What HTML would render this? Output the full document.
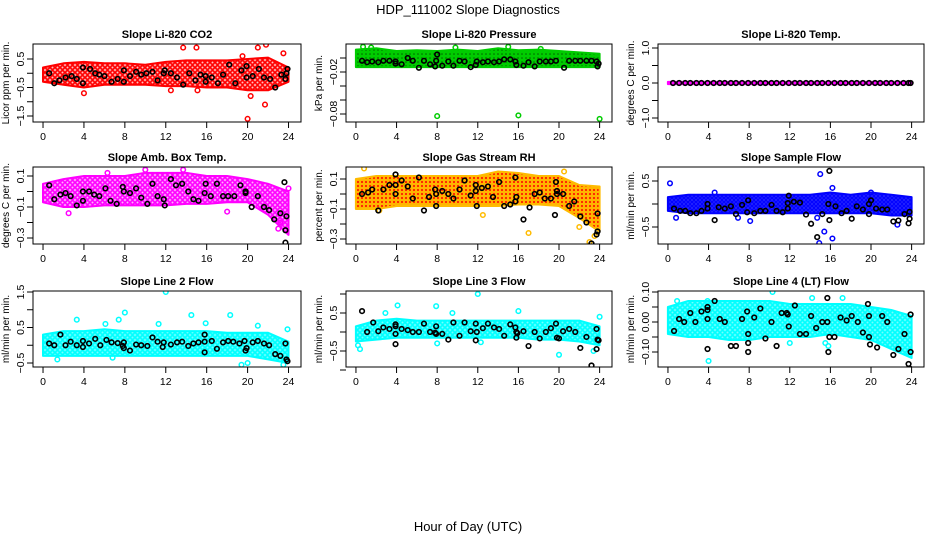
<!DOCTYPE html>
<html><head><meta charset="utf-8"><style>
html,body{margin:0;padding:0;background:#fff;}
svg{display:block;font-family:"Liberation Sans",sans-serif;}
</style></head><body>
<svg id="chart" width="936" height="540" viewBox="0 0 936 540" xmlns="http://www.w3.org/2000/svg">
<defs>
<pattern id="pat-red" width="5" height="5" patternUnits="userSpaceOnUse"><rect width="5" height="5" fill="#f00" opacity="0.25"/><circle cx="2.5" cy="2.5" r="1.8" fill="none" stroke="#f00" stroke-width="1.6"/></pattern>
<pattern id="pat-green" width="4" height="4" patternUnits="userSpaceOnUse"><rect width="4" height="4" fill="#0c0"/><circle cx="2" cy="2" r="0.8" fill="#060"/></pattern>
<pattern id="pat-mag" width="5" height="5" patternUnits="userSpaceOnUse"><rect width="5" height="5" fill="#f0f" opacity="0.3"/><circle cx="2.5" cy="2.5" r="1.8" fill="none" stroke="#f0f" stroke-width="1.6"/></pattern>
<pattern id="pat-rh" width="4" height="4" patternUnits="userSpaceOnUse"><rect width="4" height="4" fill="#ffb400"/><circle cx="2" cy="2" r="1" fill="#f00"/></pattern>
<pattern id="pat-blue" width="4" height="4" patternUnits="userSpaceOnUse"><rect width="4" height="4" fill="#00f" opacity="0.8"/><circle cx="2" cy="2" r="1.4" fill="none" stroke="#00f" stroke-width="1.2"/></pattern>
<pattern id="pat-cyan" width="5" height="5" patternUnits="userSpaceOnUse"><rect width="5" height="5" fill="#0ff" opacity="0.55"/><circle cx="2.5" cy="2.5" r="1.8" fill="none" stroke="#0ff" stroke-width="1.6"/></pattern>
</defs>
<text x="468" y="14" font-size="13" text-anchor="middle">HDP_111002  Slope Diagnostics</text>
<text x="468" y="531" font-size="13" text-anchor="middle">Hour of Day (UTC)</text>
</svg>
<script>
const bandHours=[0,2,4,6,8,10,12,14,16,18,20,22,24];
const xTicks=[0,4,8,12,16,20,24];
// Panel 1 CO2
const co2Lo=[-0.3,-0.4,-0.5,-0.4,-0.4,-0.4,-0.45,-0.45,-0.5,-0.5,-0.6,-0.6,-0.3];
const co2Hi=[0.2,0.35,0.4,0.35,0.35,0.3,0.4,0.45,0.45,0.45,0.5,0.55,0.2];
const co2Out=[[13.7,0.9],[15,0.9],[20,-1.6],[21.7,-1.1],[21.8,1.0],[21,0.9],[20.3,-0.8],[4,-0.7],[12.5,-0.6],[15.1,-0.6],[23.5,0.7],[19.5,0.6]];
const co2Black=[[0.6,0],[1.1,-0.35],[1.6,-0.25],[2.2,-0.15],[2.8,-0.1],[3.3,-0.2],[3.9,-0.35],[3.9,0.2],[4.6,0.15],[5.1,0],[5.5,-0.05],[6,-0.1],[6.7,-0.3],[7.3,-0.2],[7.9,-0.3],[7.9,0.1],[8.5,-0.1],[9.1,0.05],[9.6,-0.05],[10.1,0],[10.7,0.05],[11.2,-0.25],[11.8,0],[11.9,0.1],[12.5,0],[13.1,-0.15],[13.7,-0.4],[14.3,0],[14.9,-0.25],[15.4,-0.05],[15.9,-0.1],[15.9,-0.3],[16.5,-0.15],[17.1,-0.35],[17.6,-0.05],[18.2,0.3],[18.8,-0.35],[19.4,0.1],[19.9,-0.15],[19.9,0.25],[20.5,-0.1],[21.1,0.15],[21.6,-0.15],[22.2,-0.2],[22.7,-0.5],[23.3,-0.05],[23.7,-0.2],[23.9,0.15],[23.8,0.0]];
// Panel 2 pressure
const presLo=[-0.013,-0.013,-0.013,-0.013,-0.013,-0.013,-0.013,-0.013,-0.013,-0.013,-0.013,-0.013,-0.013];
const presHi=[0.012,0.014,0.01,0.011,0.01,0.012,0.01,0.014,0.011,0.012,0.01,0.008,0.006];
const presOut=[[8,-0.083],[16,-0.082],[24,-0.087],[0.7,0.016],[1.5,0.015],[15,0.016],[18.2,0.013],[9.8,0.015]];
const presBlack=[[0.6,-0.004],[1.1,-0.006],[1.6,-0.005],[2.2,-0.006],[2.7,-0.004],[3.3,-0.004],[3.9,-0.005],[3.9,-0.008],[4.5,-0.009],[5.1,0.0],[5.6,-0.004],[6.2,-0.014],[6.7,-0.004],[7.3,-0.009],[7.8,-0.012],[7.9,-0.004],[8,0.005],[8.5,-0.011],[9.1,-0.005],[9.6,-0.011],[10.2,-0.004],[10.7,-0.005],[11.3,-0.013],[11.8,-0.01],[11.9,-0.005],[12.5,-0.006],[13,-0.005],[13.6,-0.006],[14.1,-0.005],[14.6,-0.002],[15.2,-0.002],[15.7,-0.005],[15.8,-0.01],[16.5,-0.011],[17,-0.006],[17.6,-0.012],[18.1,-0.005],[18.7,-0.005],[19.2,-0.005],[19.7,-0.004],[20.5,-0.014],[21,-0.004],[21.6,-0.004],[22.1,-0.004],[22.7,-0.004],[23.2,-0.004],[23.7,-0.005],[23.8,-0.012],[23.9,-0.008]];
// Panel 3 temp
const tempLo=[-0.03,-0.03,-0.03,-0.03,-0.03,-0.03,-0.03,-0.03,-0.03,-0.03,-0.03,-0.03,-0.03];
const tempHi=[0.03,0.03,0.03,0.03,0.03,0.03,0.03,0.03,0.03,0.03,0.03,0.03,0.03];
const tempOut=[];
const tempBlack=[[0.5,0],[1.1,0],[1.7,0],[2.2,0],[2.8,0],[3.3,0],[3.9,0],[4.5,0],[5.1,0],[5.6,0],[6.2,0],[6.7,0],[7.3,0],[7.9,0],[8.5,0],[9.1,0],[9.6,0],[10.2,0],[10.7,0],[11.3,0],[11.9,0],[12.5,0],[13,0],[13.6,0],[14.1,0],[14.7,0],[15.2,0],[15.8,0],[16.4,0],[17,0],[17.5,0],[18.1,0],[18.6,0],[19.2,0],[19.8,0],[20.4,0],[20.9,0],[21.5,0],[22,0],[22.6,0],[23.2,0],[23.7,0],[23.9,0]];
// Panel 4 amb box
const ambLo=[-0.07,-0.1,-0.1,-0.09,-0.09,-0.09,-0.09,-0.08,-0.08,-0.07,-0.07,-0.15,-0.28];
const ambHi=[0.05,0.08,0.1,0.1,0.1,0.12,0.12,0.12,0.1,0.1,0.08,0.05,0.0];
const ambOut=[[23,-0.24],[10,0.14],[13.7,0.14],[18,-0.13],[2.5,-0.14],[6.3,0.12],[23.2,-0.2],[24,0.02]];
const ambBlack=[[0.6,0.04],[1.1,-0.05],[1.7,-0.02],[2.2,-0.01],[2.7,-0.03],[3.3,-0.09],[3.9,-0.06],[3.9,0.0],[4.5,0.0],[5,-0.02],[5.5,-0.03],[6.1,0.02],[6.6,-0.06],[7.2,-0.08],[7.8,0.03],[7.9,0.0],[8.5,-0.01],[9.1,0.02],[9.6,-0.04],[10.2,-0.08],[10.7,0.05],[11.2,-0.03],[11.8,-0.05],[11.9,-0.09],[12.5,0.08],[13,0.04],[13.6,0.05],[14.2,0.0],[14.7,-0.05],[15.2,-0.06],[15.8,-0.01],[15.9,0.05],[16.4,-0.03],[17,0.05],[17.6,-0.03],[18.1,-0.03],[18.7,-0.03],[19.3,0.04],[19.8,0.0],[19.8,-0.01],[20.4,-0.1],[21,-0.03],[21.6,-0.1],[22.1,-0.12],[22.6,-0.18],[23.2,-0.14],[23.6,0.06],[23.7,-0.25],[23.8,-0.16],[23.7,-0.33]];
// Panel 5 RH
const rhLo=[-0.1,-0.1,-0.08,-0.08,-0.08,-0.08,-0.08,-0.08,-0.07,-0.07,-0.08,-0.16,-0.25];
const rhHi=[0.1,0.12,0.12,0.12,0.12,0.12,0.12,0.15,0.14,0.12,0.12,0.06,0.05];
const rhOut=[[0.8,0.17],[17,-0.26],[23,-0.32],[2.3,-0.11],[12.5,-0.14],[20.5,0.15],[22,-0.22],[23.5,-0.28]];
const rhBlack=[[0.6,0.0],[1.2,0.01],[1.6,0.03],[2.2,-0.11],[2.7,0.03],[3.3,0.06],[3.9,0.13],[3.9,0.06],[3.9,0.0],[4.5,0.09],[5.1,0.05],[5.6,-0.03],[6.2,0.11],[6.7,-0.11],[7.2,-0.02],[7.8,0.03],[7.9,0.0],[7.9,-0.08],[8.5,0.02],[9.1,0.0],[9.6,-0.03],[10.2,0.03],[10.7,0.09],[11.3,-0.01],[11.8,0.06],[11.8,0.02],[11.9,-0.08],[12.4,0.04],[13,0.05],[13.5,-0.02],[14.1,0.08],[14.6,-0.08],[15.2,-0.07],[15.7,0.11],[15.8,-0.02],[15.7,-0.05],[16.5,-0.17],[17.1,-0.09],[17.6,0.0],[18.1,0.01],[18.6,-0.03],[19.2,-0.03],[19.7,0.08],[19.8,0.02],[19.8,0.0],[19.6,-0.14],[20.4,0.0],[21,-0.08],[21.5,-0.05],[22.1,-0.15],[22.7,-0.19],[23.2,-0.33],[23.7,-0.27],[23.8,-0.25],[23.8,-0.13]];
// Panel 6 sample flow
const sfLo=[-0.15,-0.2,-0.2,-0.2,-0.2,-0.2,-0.2,-0.2,-0.2,-0.2,-0.2,-0.25,-0.25];
const sfHi=[0.15,0.2,0.2,0.2,0.2,0.2,0.2,0.2,0.25,0.2,0.25,0.2,0.15];
const sfOut=[[0.2,0.45],[15,0.65],[16.2,0.35],[14.9,-0.85],[15.4,-0.6],[16.2,-0.75],[0.8,-0.3],[8.1,-0.37],[6.9,-0.3],[22.6,-0.45],[14.7,-0.3],[4.6,0.25],[20,0.25]];
const sfBlack=[[0.6,-0.1],[1.2,-0.15],[1.7,-0.15],[2.2,-0.2],[2.8,-0.2],[3.3,-0.15],[3.9,-0.1],[3.9,0.0],[4.6,-0.35],[5,-0.07],[5.6,-0.1],[6.2,-0.05],[6.7,-0.22],[7.3,-0.02],[7.8,-0.18],[7.9,0.08],[8.5,-0.2],[9.1,-0.15],[9.6,-0.15],[10.2,-0.02],[10.7,-0.15],[11.3,-0.18],[11.8,-0.1],[11.8,0.02],[11.9,0.18],[12.4,0.05],[13,0.03],[13.6,-0.23],[14.1,-0.43],[14.7,-0.72],[15.2,-0.22],[15.8,0.0],[15.9,-0.35],[15.9,0.72],[16.5,-0.05],[17.1,-0.2],[17.6,-0.15],[18.1,-0.32],[18.6,-0.05],[19.2,-0.12],[19.8,0.0],[19.8,-0.22],[20,0.08],[20.5,-0.1],[21.1,-0.12],[21.6,-0.12],[22.2,-0.38],[22.7,-0.36],[23.3,-0.22],[23.7,-0.42],[23.8,-0.32],[23.8,-0.17]];
// Panel 7 line 2
const l2Lo=[-0.3,-0.3,-0.3,-0.3,-0.3,-0.3,-0.3,-0.3,-0.3,-0.3,-0.3,-0.4,-0.5];
const l2Hi=[0.3,0.4,0.4,0.45,0.4,0.4,0.4,0.4,0.4,0.35,0.35,0.35,0.1];
const l2Out=[[12,1.5],[8,0.92],[14.5,0.85],[18.3,0.85],[3.3,0.72],[6.1,0.6],[7.4,0.72],[1.4,-0.4],[6.8,-0.35],[19.4,-0.55],[20,-0.5],[23.5,-0.55],[23.9,0.45],[15.9,0.62],[11.3,0.6],[21,0.55]];
const l2Black=[[0.6,0.05],[1.1,0.0],[1.7,0.3],[2.2,0.0],[2.7,0.1],[3.3,0.0],[3.9,-0.05],[3.9,0.12],[4.5,0.05],[5.1,0.18],[5.6,0.0],[6.2,0.15],[6.7,0.08],[7.3,0.06],[7.8,-0.02],[7.9,-0.08],[7.9,0.08],[8.5,-0.15],[9.1,0.02],[9.6,0.0],[10.2,-0.02],[10.7,0.22],[11.2,0.1],[11.7,-0.05],[11.8,0.08],[12.5,0.02],[13.1,0.08],[13.6,0.1],[14.2,-0.02],[14.7,0.05],[15.2,0.08],[15.8,0.3],[15.8,0.1],[15.8,-0.2],[16.5,0.12],[17,-0.1],[17.6,0.08],[18.1,0.12],[18.6,0.1],[19.2,0.05],[19.7,0.12],[19.8,-0.15],[19.9,-0.08],[20.5,0.08],[21,0.12],[21.6,0.05],[22.1,0.0],[22.7,-0.25],[23.2,-0.3],[23.7,0.05],[23.8,-0.4],[23.9,-0.45]];
// Panel 8 line 3
const l3Lo=[-0.25,-0.2,-0.15,-0.15,-0.15,-0.15,-0.15,-0.15,-0.15,-0.2,-0.2,-0.25,-0.35];
const l3Hi=[0.15,0.3,0.35,0.3,0.3,0.3,0.3,0.3,0.3,0.3,0.3,0.3,0.15];
const l3Out=[[12,1.0],[4.1,0.7],[7.9,0.68],[0.4,-0.45],[0.2,-0.35],[8,-0.3],[20,-0.6],[23.4,-0.5],[24,0.4],[9.5,0.5],[16,0.55],[2.9,0.5],[12.3,-0.27]];
const l3Black=[[0.6,0.55],[1.1,0.0],[1.7,0.25],[2.2,0.02],[2.7,0.12],[3.3,0.08],[3.9,0.2],[3.9,0.15],[3.9,-0.05],[3.9,-0.32],[4.5,0.08],[5.1,0.05],[5.6,0.0],[6.2,0.0],[6.7,0.22],[7.3,0.0],[7.8,-0.02],[7.9,0.15],[7.9,-0.05],[8.5,-0.05],[9.1,-0.2],[9.6,0.25],[10.2,-0.1],[10.7,0.25],[11.3,0.02],[11.8,0.22],[11.9,0.0],[11.8,-0.22],[12.5,0.1],[13,0.22],[13.6,0.12],[14.1,0.08],[14.6,-0.1],[15.2,0.2],[15.7,0.12],[15.8,-0.15],[15.8,0.0],[15.9,-0.03],[16.5,0.02],[17,-0.37],[17.6,0.0],[18.1,-0.17],[18.7,0.0],[19.2,0.1],[19.7,0.22],[19.8,-0.15],[20,-0.17],[20.4,0.02],[21,0.08],[21.6,0.0],[22.1,-0.42],[22.7,-0.13],[23.2,-0.88],[23.7,0.08],[23.7,-0.45],[23.8,-0.2],[23.9,-0.22]];
// Panel 9 line 4
const l4Lo=[-0.04,-0.05,-0.05,-0.06,-0.06,-0.05,-0.05,-0.05,-0.04,-0.05,-0.06,-0.09,-0.12];
const l4Hi=[0.05,0.07,0.07,0.07,0.07,0.07,0.06,0.06,0.06,0.06,0.05,0.04,0.02];
const l4Out=[[4,-0.13],[10.3,0.1],[12,-0.07],[15.8,-0.08],[14.2,0.08],[0.9,0.07],[3.9,0.07],[17.2,0.08],[15.5,-0.07]];
const l4Black=[[0.6,-0.03],[1.1,0.01],[1.6,0.0],[2.2,0.03],[2.7,0.0],[3.3,0.035],[3.9,0.05],[3.9,0.04],[3.9,0.01],[3.9,-0.09],[4.6,0.07],[5.1,0.01],[5.6,0.0],[6.2,-0.08],[6.7,-0.08],[7.3,0.01],[7.8,0.035],[7.9,-0.04],[7.9,-0.07],[7.9,-0.1],[8.5,0.015],[9.1,0.045],[9.6,-0.055],[10.2,0.0],[10.7,-0.08],[11.2,0.03],[11.7,0.03],[11.8,0.025],[11.9,-0.015],[12.5,0.055],[13,-0.04],[13.6,-0.04],[14.1,0.02],[14.6,-0.02],[15.2,0.0],[15.7,0.08],[15.7,0.0],[15.8,-0.1],[15.9,-0.05],[16.4,-0.05],[17,0.015],[17.6,0.005],[18.1,0.02],[18.7,0.0],[19.2,-0.035],[19.7,0.06],[19.8,0.02],[19.8,-0.05],[19.9,-0.075],[20.6,-0.085],[21.1,0.02],[21.6,0],[22.2,-0.11],[22.7,-0.09],[23.3,-0.04],[23.7,-0.14],[23.8,-0.155],[23.9,0.025],[23.9,-0.1]];

const panels=[
 {id:'co2',title:'Slope Li-820 CO2',ylab:'Licor ppm per min.',col:0,row:0,lo:co2Lo,hi:co2Hi,out:co2Out,blk:co2Black,pat:'pat-red',color:'#f00',ref:[0.5,59,-1.5,116],ticks:[0.5,0,-0.5,-1,-1.5],labels:[0.5,-0.5,-1.5],fmt:1},
 {id:'pressure',title:'Slope Li-820 Pressure',ylab:'kPa per min.',col:1,row:0,lo:presLo,hi:presHi,out:presOut,blk:presBlack,pat:'pat-green',color:'#0c0',ref:[0,58,-0.08,114],ticks:[0,-0.02,-0.04,-0.06,-0.08],labels:[-0.02,-0.08],fmt:2},
 {id:'temp',title:'Slope Li-820 Temp.',ylab:'degrees C per min.',col:2,row:0,lo:tempLo,hi:tempHi,out:tempOut,blk:tempBlack,pat:'pat-mag',color:'#f0f',ref:[1,48,-1,118],ticks:[1,0.5,0,-0.5,-1],labels:[1,0,-1],fmt:1},
 {id:'amb-box',title:'Slope Amb. Box Temp.',ylab:'degrees C per min.',col:0,row:1,lo:ambLo,hi:ambHi,out:ambOut,blk:ambBlack,pat:'pat-mag',color:'#f0f',ref:[0.1,176,-0.3,238],ticks:[0.1,0,-0.1,-0.2,-0.3],labels:[0.1,-0.1,-0.3],fmt:1},
 {id:'rh',title:'Slope Gas Stream RH',ylab:'percent per min.',col:1,row:1,lo:rhLo,hi:rhHi,out:rhOut,blk:rhBlack,pat:'pat-rh',color:'#fb0',ref:[0.1,179,-0.3,239],ticks:[0.1,0,-0.1,-0.2,-0.3],labels:[0.1,-0.1,-0.3],fmt:1},
 {id:'sample-flow',title:'Slope Sample Flow',ylab:'ml/min per min.',col:2,row:1,lo:sfLo,hi:sfHi,out:sfOut,blk:sfBlack,pat:'pat-blue',color:'#00f',ref:[0.5,181,-0.5,227],ticks:[0.5,0,-0.5],labels:[0.5,-0.5],fmt:1},
 {id:'line2',title:'Slope Line 2 Flow',ylab:'ml/min per min.',col:0,row:2,lo:l2Lo,hi:l2Hi,out:l2Out,blk:l2Black,pat:'pat-cyan',color:'#0ff',ref:[1.5,292,-0.5,363],ticks:[1.5,1,0.5,0,-0.5],labels:[1.5,0.5,-0.5],fmt:1},
 {id:'line3',title:'Slope Line 3 Flow',ylab:'ml/min per min.',col:1,row:2,lo:l3Lo,hi:l3Hi,out:l3Out,blk:l3Black,pat:'pat-cyan',color:'#0ff',ref:[0.5,313,-0.5,351],ticks:[1,0.5,0,-0.5,-1],labels:[0.5,-0.5],fmt:1},
 {id:'line4',title:'Slope Line 4 (LT) Flow',ylab:'ml/min per min.',col:2,row:2,lo:l4Lo,hi:l4Hi,out:l4Out,blk:l4Black,pat:'pat-cyan',color:'#0ff',ref:[0.1,292,-0.1,352],ticks:[0.1,0.05,0,-0.05,-0.1],labels:[0.1,0,-0.1],fmt:2}
];
const colX=[[33,301],[346,612],[658,924]];
const rowY=[[44,122],[167,244],[291,367]];
const NS='http://www.w3.org/2000/svg';
const svg=document.getElementById('chart');
function mk(tag,attrs,parent){const e=document.createElementNS(NS,tag);for(const k in attrs)e.setAttribute(k,attrs[k]);(parent||svg).appendChild(e);return e;}
function fmtNum(v,d){const s=Math.abs(v).toFixed(d);return (v<0?'\u2212':'')+s;}

panels.forEach(p=>{
  const [L,R]=colX[p.col],[T,B]=rowY[p.row];
  const xs=h=>L+(h+0.98)/26.2*(R-L);
  const [v1,y1,v2,y2]=p.ref;
  const ys=v=>y1+(v-v1)*(y2-y1)/(v2-v1);
  const g=mk('g',{});
  
  
  const clipId='clip-'+p.id;
  const cp=mk('clipPath',{id:clipId},g);mk('rect',{x:L,y:T,width:R-L,height:B-T},cp);
  const plot=mk('g',{'clip-path':'url(#'+clipId+')'},g);
  let d='';
  bandHours.forEach((h,i)=>{d+=(i?'L':'M')+xs(h).toFixed(1)+','+ys(p.hi[i]).toFixed(1);});
  for(let i=bandHours.length-1;i>=0;i--)d+='L'+xs(bandHours[i]).toFixed(1)+','+ys(p.lo[i]).toFixed(1);
  const band=mk('path',{d:d+'Z',fill:'url(#'+p.pat+')',stroke:p.color,'stroke-width':2,'stroke-linejoin':'round'},plot);
  
  
  p.out.forEach(pt=>{
    const c=mk('circle',{cx:xs(pt[0]),cy:ys(pt[1]),r:2.3,fill:'none',stroke:p.color,'stroke-width':1.5},plot);
    
    
  });
  p.blk.forEach(pt=>{
    const c=mk('circle',{cx:xs(pt[0]),cy:ys(pt[1]),r:2.3,fill:'none',stroke:'#000','stroke-width':1.6},plot);
    
    
  });
  const box=mk('rect',{x:L,y:T,width:R-L,height:B-T,fill:'none',stroke:'#000','stroke-width':1},g);
  
  
  const t=mk('text',{x:(L+R)/2,y:T-6,'font-size':11,'font-weight':'bold','text-anchor':'middle'},g);
  t.textContent=p.title;
  
  
  mk('line',{x1:xs(0),x2:xs(24),y1:B,y2:B,stroke:'#000'},g);
  xTicks.forEach(h=>{
    mk('line',{x1:xs(h),x2:xs(h),y1:B,y2:B+6,stroke:'#000'},g);
    const tx=mk('text',{x:xs(h),y:B+18,'font-size':10.5,'text-anchor':'middle'},g);
    tx.textContent=h;
    
    
  });
  p.ticks.forEach(v=>{mk('line',{x1:L-6,x2:L,y1:ys(v),y2:ys(v),stroke:'#000'},g);});
  p.labels.forEach(v=>{
    const yy=ys(v);
    const ty=mk('text',{x:L-9,y:yy,'font-size':10.5,'text-anchor':'middle',transform:'rotate(-90 '+(L-9)+' '+yy+')'},g);
    ty.textContent=fmtNum(v,p.fmt);
    
    
  });
  const cy=(T+B)/2;
  const yl=mk('text',{x:L-24,y:cy,'font-size':10,'text-anchor':'middle',transform:'rotate(-90 '+(L-24)+' '+cy+')'},g);
  yl.textContent=p.ylab;
  
  
});
</script>
</body></html>
